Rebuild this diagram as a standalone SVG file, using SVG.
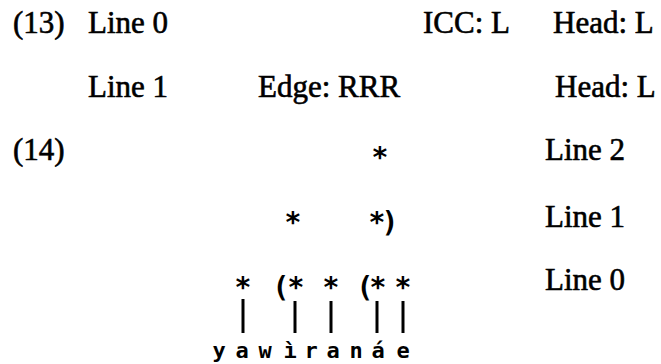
<svg xmlns="http://www.w3.org/2000/svg" width="661" height="364" viewBox="0 0 661 364">
  <style>
    .t { font-family: "Liberation Serif", "Times New Roman", serif; font-size: 31px; fill: #000; stroke: #000; stroke-width: 0.6; }
    .g { font-family: "DejaVu Sans Mono", "Liberation Mono", monospace; font-size: 28px; font-weight: bold; fill: #000; text-anchor: middle; }
    .gp { font-family: "DejaVu Sans Mono", "Liberation Mono", monospace; font-size: 28px; font-weight: bold; fill: #000; text-anchor: start; }
    .s { font-family: "DejaVu Sans Mono", "Liberation Mono", monospace; font-size: 22px; font-weight: bold; fill: #000; text-anchor: middle; }
    .bar { stroke: #000; stroke-width: 3; stroke-linecap: butt; }
  </style>
  <rect width="661" height="364" fill="#fff"/>
  <g id="ex13">
    <text class="t" x="13" y="33">(13)</text>
    <text class="t" x="88" y="33">Line 0</text>
    <text class="t" x="423" y="33">ICC: L</text>
    <text class="t" x="553" y="33">Head: L</text>
    <text class="t" x="88" y="97">Line 1</text>
    <text class="t" x="258" y="97">Edge: RRR</text>
    <text class="t" x="555" y="97">Head: L</text>
  </g>
  <g id="ex14-labels">
    <text class="t" x="13" y="160">(14)</text>
    <text class="t" x="545" y="160">Line 2</text>
    <text class="t" x="545" y="227">Line 1</text>
    <text class="t" x="545" y="290">Line 0</text>
  </g>
  <g id="grid-line2">
    <text class="g" x="380" y="167">*</text>
  </g>
  <g id="grid-line1">
    <text class="g" x="293" y="232">*</text>
    <text class="gp" x="368.6" y="232" letter-spacing="-4">*)</text>
  </g>
  <g id="grid-line0">
    <text class="g" x="243" y="297">*</text>
    <text class="gp" x="272.6" y="297" letter-spacing="-2">(*</text>
    <text class="g" x="331" y="297">*</text>
    <text class="gp" x="356.6" y="297" letter-spacing="-4">(*</text>
    <text class="g" x="403" y="297">*</text>
  </g>
  <g id="connectors">
    <line class="bar" x1="243" y1="299" x2="243" y2="333"/>
    <line class="bar" x1="295" y1="301" x2="295" y2="333"/>
    <line class="bar" x1="331" y1="301" x2="331" y2="333"/>
    <line class="bar" x1="377" y1="301" x2="377" y2="333"/>
    <line class="bar" x1="403" y1="301" x2="403" y2="333"/>
  </g>
  <g id="word">
    <text class="s" x="219" y="358">y</text>
    <text class="s" x="242" y="358">a</text>
    <text class="s" x="265" y="358">w</text>
    <text class="s" x="290" y="358">ì</text>
    <text class="s" x="311" y="358">r</text>
    <text class="s" x="333" y="358">a</text>
    <text class="s" x="356" y="358">n</text>
    <text class="s" x="378" y="358">á</text>
    <text class="s" x="403" y="358">e</text>
  </g>
</svg>
